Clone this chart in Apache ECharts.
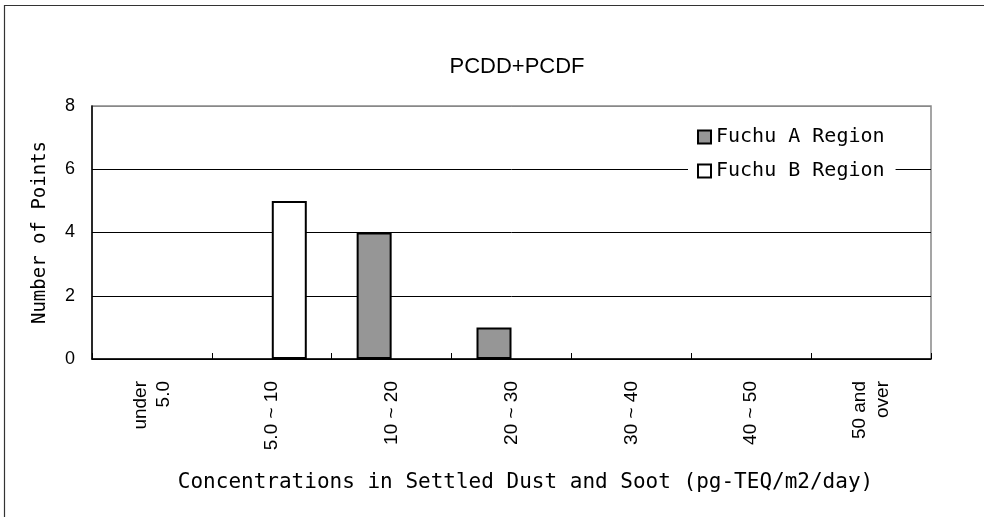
<!DOCTYPE html>
<html>
<head>
<meta charset="utf-8">
<script src="https://cdn.jsdelivr.net/npm/echarts@6/dist/echarts.min.js"></script>
<style>
html,body{margin:0;padding:0;background:#fff;}
#main{width:984px;height:517px;}
</style>
</head>
<body>
<div id="main"></div>
<script>
const chartTitle = 'PCDD+PCDF';
const categories = ['under\n5.0', '5.0 ~ 10', '10 ~ 20', '20 ~ 30', '30 ~ 40', '40 ~ 50', '50 and\nover'];
const seriesNames = ['Fuchu A Region', 'Fuchu B Region'];
const regionA = [0, 0, 4, 1, 0, 0, 0];
const regionB = [0, 5, 0, 0, 0, 0, 0];
const yTicks = [0, 2, 4, 6, 8];
const xTitle = 'Concentrations in Settled Dust and Soot (pg-TEQ/m2/day)';
const yTitle = 'Number of Points';

// zero-count bins are not drawn as bars (as in the original chart)
const hideZero = arr => arr.map(v => (v === 0 ? '-' : v));

const chart = echarts.init(document.getElementById('main'), null, {renderer: 'canvas'});
const mono = 'DejaVu Sans Mono';
const sans = 'Liberation Sans';

chart.setOption({
  animation: false,
  backgroundColor: '#fff',
  title: {
    text: chartTitle,
    left: 512,
    top: 51,
    textAlign: 'center',
    textStyle: {fontFamily: "'Liberation Sans Narrow', 'Liberation Sans'", fontSize: 22, fontWeight: 'normal', color: '#000'}
  },
  graphic: [{
    type: 'rect',
    shape: {x: 4.5, y: 5.5, width: 1100, height: 700},
    style: {fill: 'none', stroke: '#333', lineWidth: 1.2},
    silent: true,
    z: 100
  }],
  legend: {
    orient: 'vertical',
    left: 688,
    top: 119,
    padding: [8, 11, 8, 9],
    itemWidth: 13,
    itemHeight: 13,
    itemGap: 14,
    icon: 'rect',
    backgroundColor: '#fff',
    textStyle: {fontFamily: mono, fontSize: 20, color: '#000'},
    data: seriesNames
  },
  grid: {
    left: 92, top: 106, right: 53, bottom: 158,
    show: true, borderColor: '#888', borderWidth: 1.5, backgroundColor: 'transparent'
  },
  xAxis: {
    type: 'category',
    data: categories,
    boundaryGap: true,
    name: xTitle,
    nameLocation: 'middle',
    nameGap: 113,
    nameTextStyle: {fontFamily: mono, fontSize: 21, color: '#000', padding: [0, 0, 0, 28]},
    axisLine: {lineStyle: {color: '#000', width: 1.5}},
    axisTick: {show: true, inside: true, length: 6, lineStyle: {color: '#000', width: 1}},
    axisLabel: {
      rotate: 90, margin: 22, interval: 0,
      fontFamily: sans, fontSize: 19, lineHeight: 23, color: '#000'
    },
    splitLine: {show: false}
  },
  yAxis: {
    type: 'value',
    min: yTicks[0],
    max: yTicks[yTicks.length - 1],
    interval: yTicks[1] - yTicks[0],
    name: yTitle,
    nameLocation: 'middle',
    nameGap: 42,
    nameTextStyle: {fontFamily: mono, fontSize: 19, color: '#000'},
    axisLine: {show: true, lineStyle: {color: '#000', width: 1.5}},
    axisTick: {show: false},
    axisLabel: {margin: 17, fontFamily: sans, fontSize: 18, color: '#000'},
    splitLine: {show: true, lineStyle: {color: ['#000', '#000', '#000', '#000', '#888'], width: 1}}
  },
  series: [
    {
      name: seriesNames[0], type: 'bar', data: hideZero(regionA),
      barWidth: 35, barGap: '0%',
      itemStyle: {color: '#969696', borderColor: '#000', borderWidth: 2}
    },
    {
      name: seriesNames[1], type: 'bar', data: hideZero(regionB),
      barWidth: 35, barGap: '0%',
      itemStyle: {color: '#fff', borderColor: '#000', borderWidth: 2}
    }
  ]
});
</script>
</body>
</html>
